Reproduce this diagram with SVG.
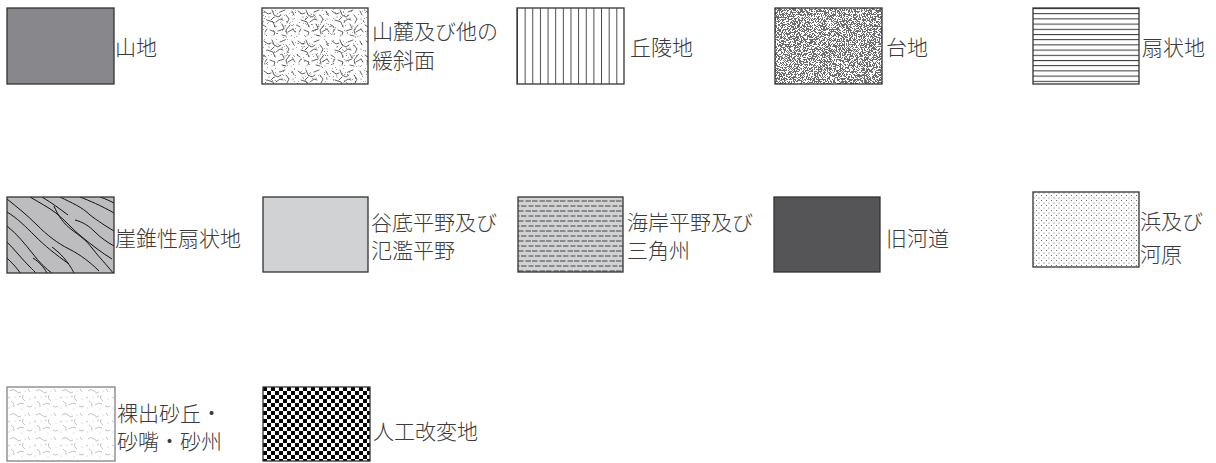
<svg xmlns="http://www.w3.org/2000/svg" width="1216" height="463" viewBox="0 0 1216 463">
<style>
text{font-family:"Noto Sans CJK JP","Noto Sans CJK SC",sans-serif;font-size:21px;font-weight:300;fill:#3a3a3a}
.bx{stroke:#333;stroke-width:1.3}
.crk{fill:none;stroke:#222;stroke-width:0.7;stroke-linecap:round}
</style>
<defs>
<pattern id="pVert" patternUnits="userSpaceOnUse" x="517" y="0" width="7.64" height="10">
<line x1="0.5" y1="0" x2="0.5" y2="10" stroke="#333" stroke-width="0.9"/>
</pattern>
<pattern id="pHor" patternUnits="userSpaceOnUse" x="0" y="8" width="10" height="5.2">
<line x1="0" y1="0.5" x2="10" y2="0.5" stroke="#333" stroke-width="1"/>
</pattern>
<pattern id="pDash" patternUnits="userSpaceOnUse" x="518" y="199" width="14" height="10">
<line x1="0" y1="2" x2="5.5" y2="2" stroke="#333" stroke-width="0.9"/>
<line x1="7.5" y1="2" x2="13" y2="2" stroke="#333" stroke-width="0.9"/>
<line x1="3" y1="7" x2="8.5" y2="7" stroke="#333" stroke-width="0.9"/>
<line x1="10.5" y1="7" x2="16" y2="7" stroke="#333" stroke-width="0.9"/>
<line x1="-4" y1="7" x2="1.5" y2="7" stroke="#333" stroke-width="0.9"/>
</pattern>
<pattern id="pDot" patternUnits="userSpaceOnUse" x="1033" y="192" width="5" height="5">
<circle cx="1" cy="1" r="0.55" fill="#555"/>
<circle cx="3.5" cy="3.5" r="0.55" fill="#555"/>
</pattern>
<pattern id="pCheck" patternUnits="userSpaceOnUse" x="263" y="387" width="8" height="8">
<rect width="8" height="8" fill="#fff"/>
<rect width="4" height="4" fill="#000"/>
<rect x="4" y="4" width="4" height="4" fill="#000"/>
</pattern>
<pattern id="pCrack" patternUnits="userSpaceOnUse" x="262" y="8" width="34" height="30">
<path class="crk" d="M2,3 l4,3 l3,-1 M10,2 l2,5 l4,2 l3,-2 M18,4 l5,-2 M24,7 l3,4 l-2,4 M5,12 l6,2 l2,5 M14,14 l4,-3 l3,1 M28,17 l-4,5 l1,4 M8,22 l5,2 l-1,3 M16,23 l6,-2 M30,3 l2,4 M1,17 l3,2 M20,27 l4,1 M26,24 l5,-3 M12,9 l-3,3 M20,16 l2,4 M3,24 l2,-3 M31,21 l2,3"/>
<g fill="#333">
<circle cx="7" cy="9" r="0.5"/><circle cx="20" cy="10" r="0.5"/><circle cx="31" cy="11" r="0.5"/>
<circle cx="3" cy="26" r="0.5"/><circle cx="13" cy="18" r="0.5"/><circle cx="23" cy="18" r="0.5"/>
<circle cx="15" cy="6" r="0.4"/><circle cx="29" cy="28" r="0.4"/><circle cx="10" cy="28" r="0.4"/>
</g>
</pattern>
<pattern id="pSand" patternUnits="userSpaceOnUse" x="7" y="387" width="26" height="24">
<path d="M3,4 q3,-3 6,0 q2,3 5,1 M16,8 q-2,4 2,6 M4,14 q4,2 3,6 M10,18 q3,-3 7,-1 M20,19 q3,2 5,0 M21,2 l2,3 M1,10 l2,1 M12,10 l2,-1" fill="none" stroke="#999" stroke-width="0.6"/>
<g fill="#aaa"><circle cx="8" cy="10" r="0.5"/><circle cx="18" cy="4" r="0.5"/><circle cx="23" cy="12" r="0.5"/><circle cx="2" cy="21" r="0.5"/><circle cx="15" cy="22" r="0.5"/></g>
</pattern>
<filter id="fSpeck" x="0" y="0" width="1" height="1">
<feTurbulence type="fractalNoise" baseFrequency="1.2" numOctaves="2" seed="7"/>
<feColorMatrix type="matrix" values="0 0 0 0 0.15  0 0 0 0 0.15  0 0 0 0 0.15  1 0 0 0 0"/>
<feComponentTransfer><feFuncA type="discrete" tableValues="0 0 0 0 0 1 1 1 1 1"/></feComponentTransfer>
</filter>
<filter id="fSpeckLight" x="0" y="0" width="1" height="1">
<feTurbulence type="fractalNoise" baseFrequency="1.1" numOctaves="2" seed="3"/>
<feColorMatrix type="matrix" values="0 0 0 0 0.2  0 0 0 0 0.2  0 0 0 0 0.2  1 0 0 0 0"/>
<feComponentTransfer><feFuncA type="discrete" tableValues="0 0 0 0 0 0 0 0.7 1 1"/></feComponentTransfer>
</filter>
<clipPath id="cTalus"><rect x="7" y="197" width="107" height="76"/></clipPath>
</defs>

<g id="connectors"/>

<g id="n-sanchi">
<rect class="bx" x="7" y="8" width="107" height="76" fill="#88888c" stroke-width="1.6"/>
<text x="115" y="55">山地</text>
</g>

<g id="n-sanroku">
<rect x="262" y="8" width="106" height="76" fill="#fff"/>
<rect x="262" y="8" width="106" height="76" filter="url(#fSpeckLight)"/>
<rect x="262" y="8" width="106" height="76" fill="url(#pCrack)"/>
<rect class="bx" x="262" y="8" width="106" height="76" fill="none"/>
<text x="372" y="39">山麓及び他の</text>
<text x="372" y="68">緩斜面</text>
</g>

<g id="n-kyuryo">
<rect x="517" y="8" width="107" height="76" fill="#fff"/>
<rect x="517" y="8" width="107" height="76" fill="url(#pVert)"/>
<rect class="bx" x="517" y="8" width="107" height="76" fill="none"/>
<text x="630" y="55">丘陵地</text>
</g>

<g id="n-daichi">
<rect x="775" y="8" width="107" height="76" fill="#fff"/>
<rect x="775" y="8" width="107" height="76" filter="url(#fSpeck)"/>
<rect class="bx" x="775" y="8" width="107" height="76" fill="none"/>
<text x="886" y="55">台地</text>
</g>

<g id="n-senjochi">
<rect x="1033" y="8" width="106" height="76" fill="#fff"/>
<rect x="1033" y="8" width="106" height="76" fill="url(#pHor)"/>
<rect class="bx" x="1033" y="8" width="106" height="76" fill="none" stroke-width="1.5"/>
<text x="1142" y="55">扇状地</text>
</g>

<g id="n-gaisui">
<rect x="7" y="197" width="107" height="76" fill="#bdbdc0"/>
<g clip-path="url(#cTalus)" fill="none" stroke="#111" stroke-width="1">
<path d="M7,199 c10,8 20,16 30,26 c10,10 20,18 32,24 c12,6 22,14 30,22"/>
<path d="M7,212 c10,6 18,14 28,24 c10,10 20,18 34,28"/>
<path d="M7,226 c10,8 18,18 26,28 c6,8 12,14 20,20"/>
<path d="M7,242 c8,8 14,16 22,24 c4,4 6,6 8,8"/>
<path d="M7,258 c6,6 10,10 14,16"/>
<path d="M30,197 c10,6 18,10 26,16 c10,8 16,16 26,24 c10,8 20,16 30,22"/>
<path d="M42,197 c10,6 18,12 26,18"/>
<path d="M54,206 c4,10 10,18 18,24 c8,6 14,10 20,18 c6,8 14,16 22,26"/>
<path d="M60,197 c12,6 22,10 30,18 c8,6 14,10 24,16"/>
<path d="M75,220 c8,2 14,6 20,12 c6,6 12,10 19,14"/>
<path d="M80,197 c10,4 20,8 34,16"/>
<path d="M100,197 c6,2 10,4 14,6"/>
<path d="M52,247 c8,6 16,14 22,26"/>
<path d="M33,258 c6,4 10,8 14,15"/>
</g>
<rect class="bx" x="7" y="197" width="107" height="76" fill="none"/>
<text x="115" y="246">崖錐性扇状地</text>
</g>

<g id="n-kokutei">
<rect class="bx" x="263" y="197" width="105" height="75" fill="#d1d2d4"/>
<text x="371" y="230">谷底平野及び</text>
<text x="371" y="258">氾濫平野</text>
</g>

<g id="n-kaigan">
<rect x="518" y="197" width="105" height="75" fill="#d1d2d4"/>
<rect x="518" y="197" width="105" height="75" fill="url(#pDash)"/>
<rect class="bx" x="518" y="197" width="105" height="75" fill="none"/>
<text x="627" y="230">海岸平野及び</text>
<text x="627" y="258">三角州</text>
</g>

<g id="n-kyukado">
<rect class="bx" x="774" y="197" width="106" height="75" fill="#555557"/>
<text x="886" y="246">旧河道</text>
</g>

<g id="n-hama">
<rect x="1033" y="192" width="106" height="75" fill="#fff"/>
<rect x="1033" y="192" width="106" height="75" fill="url(#pDot)"/>
<rect class="bx" x="1033" y="192" width="106" height="75" fill="none"/>
<text x="1140" y="229">浜及び</text>
<text x="1140" y="262">河原</text>
</g>

<g id="n-rashutsu">
<rect x="7" y="387" width="108" height="74" fill="#fff"/>
<rect x="7" y="387" width="108" height="74" fill="url(#pSand)"/>
<rect x="7" y="387" width="108" height="74" fill="none" stroke="#777" stroke-width="1.2"/>
<text x="117" y="421">裸出砂丘・</text>
<text x="117" y="449">砂嘴・砂州</text>
</g>

<g id="n-jinko">
<rect x="263" y="387" width="107" height="74" fill="url(#pCheck)"/>
<rect class="bx" x="263" y="387" width="107" height="74" fill="none"/>
<text x="373" y="439">人工改変地</text>
</g>
</svg>
